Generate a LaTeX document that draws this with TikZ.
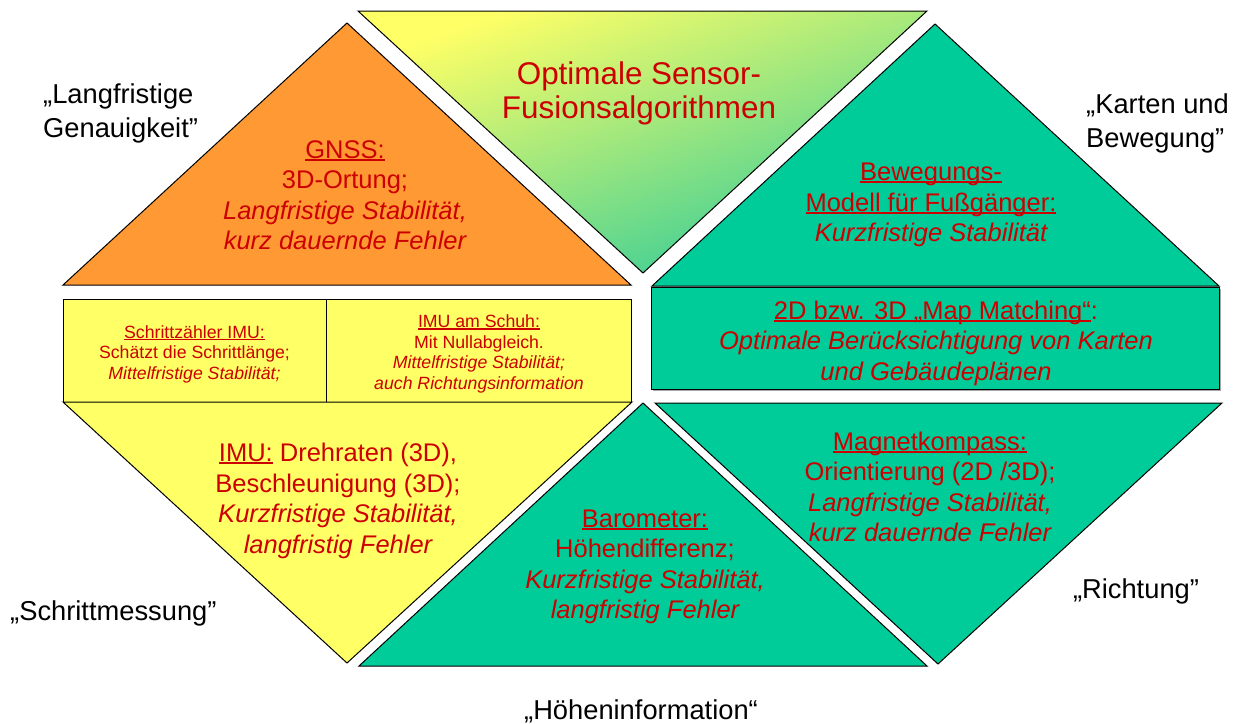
\documentclass[tikz,border=0pt]{standalone}
\usepackage{fontspec}
\setmainfont{Liberation Sans}

\definecolor{panelorange}{HTML}{FF9933}
\definecolor{panelgreen}{HTML}{00CC99}
\definecolor{panelyellow}{HTML}{FFFF66}
\definecolor{fusiongreen}{HTML}{33CC99}
\definecolor{textred}{HTML}{CC0000}
\definecolor{shadowgray}{HTML}{A6A6A6}

% underline drawn just below the baseline, through the descenders
\newsavebox\ulinebox
\newcommand\ulx[1]{\sbox\ulinebox{#1}\rlap{\rule[-0.1em]{\wd\ulinebox}{0.075em}}\usebox\ulinebox}

\begin{document}
\begin{tikzpicture}[x=1pt,y=-1pt,
  panel/.style={draw=black, line width=1pt, line join=miter},
  body/.style={text=textred, align=center, inner sep=0pt,
    font=\fontsize{25.5}{30.5}\selectfont},
  small/.style={text=textred, align=center, inner sep=0pt,
    font=\fontsize{17.7}{20.5}\selectfont},
  headline/.style={text=textred, align=center, inner sep=0pt,
    font=\fontsize{31.4}{34}\selectfont},
  aspect/.style={text=black, align=left, inner sep=0pt,
    font=\fontsize{27.3}{34}\selectfont}]

\useasboundingbox (0,0) rectangle (1237,723);
\fill[white] (0,0) rectangle (1237,723);

% upper half
\shade[shading=axis, top color=panelyellow, bottom color=fusiongreen, shading angle=20]
  (358,11) -- (927,11) -- (643,273) -- cycle;
\draw[panel] (358,11) -- (927,11) -- (643,273) -- cycle;
\draw[panel, fill=panelorange] (347,23) -- (631,285) -- (63,285) -- cycle;
\draw[panel, fill=panelgreen] (935,24) -- (1219,286) -- (652,286) -- cycle;

% middle band
\draw[panel, fill=panelyellow] (63,299) rectangle (631,402);
\draw[panel] (326,299) -- (326,402);
\fill[shadowgray] (653,289) rectangle (1221,391);
\draw[panel, fill=panelgreen] (651,287) rectangle (1219,389);

% lower half
\draw[panel, fill=panelyellow] (63,402) -- (632,402) -- (347,663) -- cycle;
\draw[panel, fill=panelgreen] (643,403) -- (927,666) -- (359,666) -- cycle;
\draw[panel, fill=panelgreen] (655,403) -- (1222,403) -- (938,664) -- cycle;

% panel texts
\node[headline] (fusion) at (639,93) {Optimale Sensor-\\Fusionsalgorithmen};
\node[body] (gnss) at (345,195)
  {\ulx{GNSS:}\\3D-Ortung;\\{\itshape Langfristige Stabilität,}\\{\itshape kurz dauernde Fehler}};
\node[body] (motion) at (931,205)
  {\ulx{Bewegungs-}\\\ulx{Modell für Fußgänger:}\\{\itshape Kurzfristige Stabilität}};
\node[small] (stepcount) at (194.5,354)
  {\ulx{Schrittzähler IMU:}\\Schätzt die Schrittlänge;\\{\itshape Mittelfristige Stabilität;}};
\node[small] (shoeimu) at (479,354)
  {\ulx{IMU am Schuh:}\\Mit Nullabgleich.\\{\itshape Mittelfristige Stabilität;}\\{\itshape auch Richtungsinformation}};
\node[body] (mapmatch) at (936,343)
  {\ulx{2D bzw. 3D „Map Matching“}:\\{\itshape Optimale Berücksichtigung von Karten}\\{\itshape und Gebäudeplänen}};
\node[body] (imu) at (338,501)
  {\ulx{IMU:} Drehraten (3D),\\Beschleunigung (3D);\\{\itshape Kurzfristige Stabilität,}\\{\itshape langfristig Fehler}};
\node[body] (baro) at (645,567)
  {\ulx{Barometer:}\\Höhendifferenz;\\{\itshape Kurzfristige Stabilität,}\\{\itshape langfristig Fehler}};
\node[body] (compass) at (930,487)
  {\ulx{Magnetkompass:}\\Orientierung (2D /3D);\\{\itshape Langfristige Stabilität,}\\{\itshape kurz dauernde Fehler}};

% aspect labels around the octagon
\node[aspect, anchor=west] (lblaccuracy) at (43,113) {„Langfristige\\Genauigkeit”};
\node[aspect, anchor=west] (lblmaps) at (1086,123) {„Karten und\\Bewegung”};
\node[aspect, anchor=west] (lblstep) at (10,613) {„Schrittmessung”};
\node[aspect] (lbldir) at (1136,591) {„Richtung”};
\node[aspect] (lblheight) at (641,711) {„Höheninformation“};
\end{tikzpicture}
\end{document}
